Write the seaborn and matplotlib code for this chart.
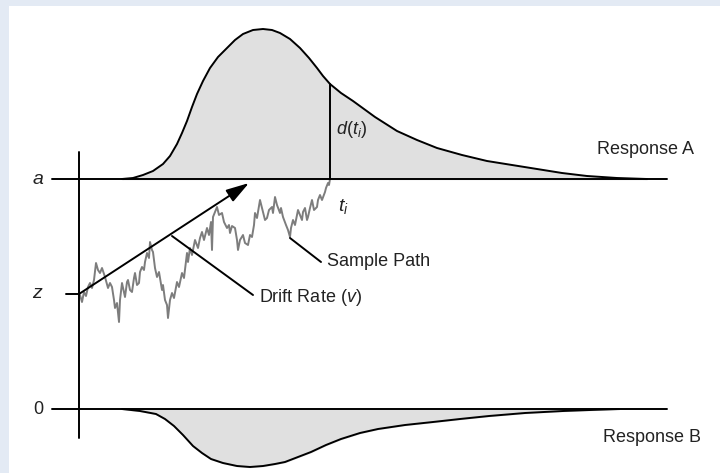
import matplotlib
matplotlib.use('Agg')
import matplotlib.pyplot as plt
import seaborn as sns
from matplotlib.patches import Rectangle

sns.set_style('white')
plt.rcParams['font.family'] = ['Liberation Sans', 'DejaVu Sans']
plt.rcParams['mathtext.fontset'] = 'custom'
plt.rcParams['mathtext.it'] = 'Liberation Sans:italic'
plt.rcParams['mathtext.rm'] = 'Liberation Sans'

# boundaries and start point (arbitrary evidence units), time in arbitrary units
a = 230
z = 115
t_i = 251
d_ti = 95

# density of finishing times at the upper boundary (response A)
tA = [43, 54, 64, 74, 84, 91, 98, 103, 108, 113, 118, 124, 131, 139, 148, 156, 164, 174, 184, 193, 201,
      211, 221, 230, 238, 244, 251, 262, 274, 296, 318, 338, 358, 383, 408, 433, 458, 483, 508, 538, 568]
dA = [0, 1, 4, 8, 15, 23, 35, 46, 58, 72, 85, 98, 111, 122, 131, 139, 145, 149, 150, 149, 146,
      140, 131, 121, 111, 103, 95, 86, 78, 62, 48, 39, 31, 24, 18, 14, 10, 6, 3, 1, 0]

# density at the lower boundary (response B)
tB = [43, 61, 77, 86, 95, 104, 114, 123, 132, 144, 158, 171, 184, 196, 206,
      219, 232, 247, 262, 281, 299, 326, 354, 381, 410, 446, 484, 511, 540]
dB = [0, 2, 5, 10, 17, 26, 37, 44, 50, 54, 57, 58, 57, 55, 53,
      48, 43, 36, 30, 24, 20, 16, 13, 10, 7, 4, 2, 1, 0]

# one sample path from z to a
t_path = [1, 3, 5, 7, 9, 11, 13, 15, 17, 19, 21, 23, 26, 29, 31, 33, 35, 36, 38, 40,
          41, 43, 45, 46, 48, 49, 51, 53, 55, 56, 58, 60, 61, 63, 65, 66, 68, 70, 71, 73,
          74, 76, 78, 80, 83, 84, 86, 88, 89, 91, 93, 95, 98, 100, 103, 105, 108, 109, 111, 113,
          116, 119, 121, 123, 125, 128, 130, 132, 133, 134, 136, 138, 140, 143, 145, 148, 150, 151, 153, 156,
          158, 159, 161, 164, 166, 169, 171, 173, 175, 176, 178, 181, 183, 184, 186, 188, 190, 193, 194, 196,
          198, 201, 202, 204, 207, 209, 211, 212, 214, 216, 219, 221, 223, 224, 226, 228, 229, 231, 233, 235,
          238, 239, 241, 243, 246, 247, 249, 250, 251]
y_path = [114, 107, 117, 113, 122, 126, 121, 129, 146, 139, 136, 141, 132, 121, 126, 122, 109, 101, 106, 87,
          109, 126, 117, 112, 127, 129, 119, 117, 131, 136, 124, 126, 137, 142, 139, 147, 156, 151, 167, 159,
          157, 141, 132, 137, 119, 124, 109, 104, 91, 109, 116, 111, 127, 122, 136, 131, 156, 147, 161, 154,
          169, 161, 171, 177, 169, 181, 174, 187, 159, 192, 197, 202, 194, 196, 187, 181, 184, 176, 183, 181,
          169, 159, 169, 174, 166, 164, 174, 172, 184, 196, 191, 209, 201, 197, 189, 191, 199, 202, 196, 212,
          204, 196, 201, 192, 184, 179, 172, 181, 189, 184, 199, 194, 189, 197, 201, 189, 192, 201, 209, 199,
          202, 209, 214, 209, 217, 221, 226, 224, 230]

# drift arrow
drift_start = (0, 115)
drift_end = (170, 226)

fig = plt.figure(figsize=(7.2, 4.73), dpi=100)
fig.patch.set_facecolor('#e3eaf4')
fig.patches.append(Rectangle((9 / 720, 0), 711 / 720, 467 / 473, transform=fig.transFigure,
                             facecolor='white', edgecolor='none', zorder=-10))
ax = fig.add_axes([0, 0, 1, 1])
ax.set_zorder(1)
ax.patch.set_visible(False)
ax.set_xlim(-79, 641)
ax.set_ylim(-64, 409)
ax.axis('off')

lw = 1.4
ink = 'black'

# densities
topA = [a + d for d in dA]
botB = [-d for d in dB]
ax.fill_between(tA, a, topA, color='#e0e0e0', zorder=1)
ax.fill_between(tB, 0, botB, color='#e0e0e0', zorder=1)
sns.lineplot(x=tA, y=topA, ax=ax, color=ink, lw=lw, sort=False, estimator=None, zorder=3)
sns.lineplot(x=tB, y=botB, ax=ax, color=ink, lw=lw, sort=False, estimator=None, zorder=3)

# boundaries, axis, z tick
ax.plot([-27, 588], [a, a], color=ink, lw=lw, zorder=4)
ax.plot([-27, 588], [0, 0], color=ink, lw=lw, zorder=4)
ax.plot([0, 0], [-29, 257], color=ink, lw=lw, zorder=4)
ax.plot([-13, 0], [z, z], color=ink, lw=lw, zorder=4)

# d(t_i)
ax.plot([t_i, t_i], [a, a + d_ti], color=ink, lw=lw, zorder=4)

# sample path
sns.lineplot(x=t_path, y=y_path, ax=ax, color='#7d7d7d', lw=1.4, sort=False, estimator=None, zorder=2)

# drift arrow
ax.annotate('', xy=drift_end, xytext=drift_start,
            arrowprops=dict(arrowstyle='-|>,head_length=1.4,head_width=0.42', color=ink, lw=lw,
                            shrinkA=0, shrinkB=0), zorder=5)

# leaders
ax.plot([93, 174], [173, 114], color=ink, lw=lw, zorder=4)
ax.plot([211, 242], [171, 147], color=ink, lw=lw, zorder=4)

txt = '#222222'
fs = 13
ax.text(180, 111, r'Drift Rate ($v$)', fontsize=fs, color=txt, ha='left', va='center')
ax.text(248, 147, 'Sample Path', fontsize=fs, color=txt, ha='left', va='center')
ax.text(518, 260, 'Response A', fontsize=fs, color=txt, ha='left', va='center')
ax.text(524, -28, 'Response B', fontsize=fs, color=txt, ha='left', va='center')
ax.text(257, 279, r'$d(t_i)$', fontsize=fs, color=txt, ha='left', va='center')
ax.text(259, 202, r'$t_i$', fontsize=fs + 1, color=txt, ha='left', va='center')
ax.text(-41, a, r'$a$', fontsize=fs + 1, color=txt, ha='center', va='center')
ax.text(-41, z, r'$z$', fontsize=fs + 1, color=txt, ha='center', va='center')
ax.text(-41, 0, '0', fontsize=fs, color=txt, ha='center', va='center')

fig.savefig('out.png', dpi=100, facecolor=fig.get_facecolor())
